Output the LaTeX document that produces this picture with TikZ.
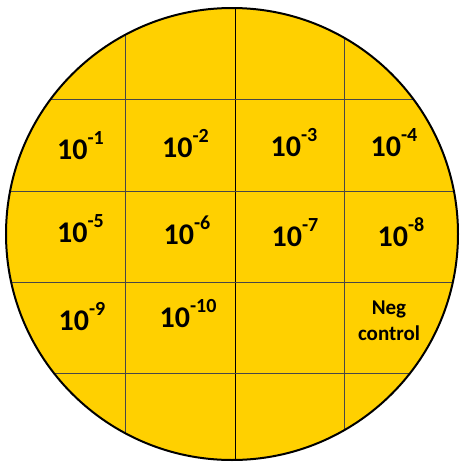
\documentclass[tikz,border=0pt]{standalone}
\usepackage{fontspec}
\newfontfamily\platefont{Carlito}
\definecolor{plategold}{RGB}{255,208,0}
\newcommand{\dilexp}[1]{10\raisebox{15pt}{\fontsize{20}{20}\selectfont -#1}}
\tikzset{
    plate/.style={fill=plategold, draw=black, line width=2pt},
    gridline/.style={draw=black!72, line width=1pt},
    midline/.style={draw=black, line width=1pt},
    dilution/.style={font=\platefont\bfseries\fontsize{30}{36}\selectfont, anchor=base, inner sep=0pt},
    ctrllabel/.style={font=\platefont\bfseries\fontsize{21}{26}\selectfont, align=center, anchor=base, inner sep=0pt},
    common settings/.style={
        x=1pt,
        y=-1pt
    }
}

\begin{document}
\begin{tikzpicture}[common settings]

    \def\cx{232}  % Plate centre x
    \def\cy{234}  % Plate centre y
    \def\r{226}   % Plate radius

    \useasboundingbox (0,0) rectangle (459,463);

    % Agar plate
    \fill[plategold] (\cx,\cy) circle (\r);

    % Grid drawn on the plate
    \begin{scope}
        \clip (\cx,\cy) circle (\r);
        \draw[gridline] (125.5,0) -- (125.5,463);
        \draw[midline] (235,0) -- (235,463);
        \draw[gridline] (344.5,0) -- (344.5,463);
        \draw[gridline] (0,99.5) -- (459,99.5); % Row 1 top
        \draw[gridline] (0,191) -- (459,191);
        \draw[gridline] (0,282.5) -- (459,282.5);
        \draw[gridline] (0,373.5) -- (459,373.5); % Row 3 bottom
    \end{scope}

    % Plate rim
    \draw[plate, fill=none] (\cx,\cy) circle (\r);

    % Dilution labels
    \node[dilution] (d1) at (80.5,159) {\dilexp{1}};
    \node[dilution] (d2) at (185.5,157.5) {\dilexp{2}};
    \node[dilution] (d3) at (294,156) {\dilexp{3}};
    \node[dilution] (d4) at (394,156) {\dilexp{4}};
    \node[dilution] (d5) at (80.5,242) {\dilexp{5}};
    \node[dilution] (d6) at (187,244) {\dilexp{6}};
    \node[dilution] (d7) at (295,246) {\dilexp{7}};
    \node[dilution] (d8) at (401,246) {\dilexp{8}};
    \node[dilution] (d9) at (82,330) {\dilexp{9}};
    \node[dilution] (d10) at (188,327) {\dilexp{10}};

    % Negative control (base = last line)
    \node[ctrllabel] (neg) at (389,340) {Neg\\control};

\end{tikzpicture}
\end{document}
